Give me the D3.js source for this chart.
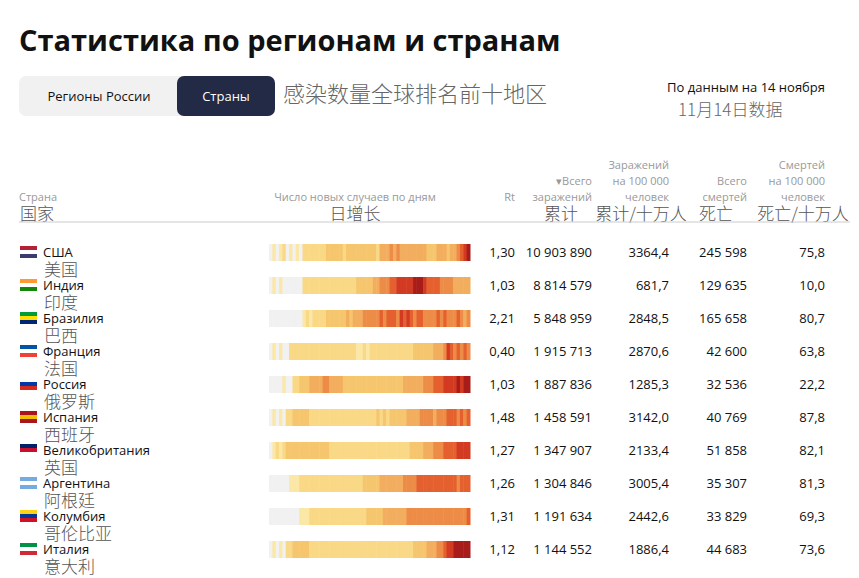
<!DOCTYPE html>
<html><head><meta charset="utf-8">
<script src="https://cdn.jsdelivr.net/npm/d3@7"></script>
<style>body{margin:0;background:#fff;font-family:"Open Sans","Noto Sans",sans-serif}</style>
</head><body><svg id="c" width="859" height="578"></svg>
<script>
const countries=["США","Индия","Бразилия","Франция","Россия","Испания","Великобритания","Аргентина","Колумбия","Италия"];
const countriesZh=["美国","印度","巴西","法国","俄罗斯","西班牙","英国","阿根廷","哥伦比亚","意大利"];
const rt=["1,30","1,03","2,21","0,40","1,03","1,48","1,27","1,26","1,31","1,12"];
const totalCases=[10903890,8814579,5848959,1915713,1887836,1458591,1347907,1304846,1191634,1144552];
const casesPer100k=[3364.4,681.7,2848.5,2870.6,1285.3,3142.0,2133.4,3005.4,2442.6,1886.4];
const deaths=[245598,129635,165658,42600,32536,40769,51858,35307,33829,44683];
const deathsPer100k=[75.8,10.0,80.7,63.8,22.2,87.8,82.1,81.3,69.3,73.6];
// daily intensity levels (0 = no data), read from strips
const daily=[
"010120101022222223333323333333332444545444444443334443445678",
"010100000022222222222222223333344555667777788876666555544444",
"000000000012122223333334344455555656665767656655556565556545",
"010100222222222222222222221121222222222222233333344457656565",
"000010022333444455444433333333333333333344444455566677778788",
"010102233333222222222222222222223232333334444555545556665656",
"012123333333333333222222222222222222222222333344455566667777",
"000000111222222222222222222233333444444455556666666666665666",
"000000000111222222222222222223333344444445555555555555555556",
"010102233333222222222222222222222222222222233334445567788888"];
const flagColors=[["#b22234","#fff","#3c3b6e"],["#ff9933","#fff","#138808"],["#009c3b","#ffdf00","#002776"],["#0055a4","#fff","#ef4135"],["#fff","#0039a6","#d52b1e"],["#aa151b","#f1bf00","#aa151b"],["#012169","#c8102e","#fff"],["#74acdf","#fff","#74acdf"],["#fcd116","#003893","#ce1126"],["#009246","#fff","#ce2b37"]];

const svg=d3.select("#c");
const fmt=d3.formatLocale({decimal:",",thousands:" ",grouping:[3]});
const f1=fmt.format(".1f"), fN=fmt.format(",d");
svg.append("text").attr("x",19).attr("y",51).attr("font-size",29).attr("font-weight",700).attr("fill","#111").text("Статистика по регионам и странам");
svg.append("rect").attr("x",19).attr("y",76).attr("width",256).attr("height",40).attr("rx",7).attr("fill","#f1f1f1");
svg.append("rect").attr("x",177).attr("y",76).attr("width",98).attr("height",40).attr("rx",7).attr("fill","#222a45");
svg.append("text").attr("x",99).attr("y",101).attr("text-anchor","middle").attr("font-size",13).attr("fill","#111").text("Регионы России");
svg.append("text").attr("x",226).attr("y",101).attr("text-anchor","middle").attr("font-size",13).attr("fill","#fff").text("Страны");
svg.append("text").attr("x",283).attr("y",102).attr("font-size",22).attr("fill","#666").attr("font-family","Noto Sans CJK SC").attr("font-weight",300).text("感染数量全球排名前十地区");
svg.append("text").attr("x",825).attr("y",92).attr("text-anchor","end").attr("font-size",13).attr("fill","#111").text("По данным на 14 ноября");
svg.append("text").attr("x",678).attr("y",116).attr("font-size",17).attr("fill","#666").attr("font-family","Noto Sans CJK SC").attr("font-weight",300).text("11月14日数据");

const gray="#999";
function hdr(x,anchor,lines,zh,zx,zanchor){
  lines.forEach((l,i)=>svg.append("text").attr("x",x).attr("y",201-(lines.length-1-i)*16).attr("text-anchor",anchor).attr("font-size",11).attr("fill",gray).text(l));
  if(zh) svg.append("text").attr("x",zx).attr("y",220).attr("text-anchor",zanchor).attr("font-size",17).attr("fill","#555").attr("font-family","Noto Sans CJK SC").attr("font-weight",300).text(zh);
}
hdr(19,"start",["Страна"],"国家",20,"start");
hdr(355,"middle",["Число новых случаев по дням"],"日增长",355,"middle");
hdr(515,"end",["Rt"],"",515,"end");
hdr(592,"end",["▾Всего","заражений"],"累计",578,"end");
hdr(669,"end",["Заражений","на 100 000","человек"],"累计/十万人",641,"middle");
hdr(747,"end",["Всего","смертей"],"死亡",716,"middle");
hdr(825,"end",["Смертей","на 100 000","человек"],"死亡/十万人",803,"middle");
svg.append("line").attr("x1",19).attr("x2",850).attr("y1",222).attr("y2",222).attr("stroke","#ccc");

const y=d3.scaleBand().domain(countries).range([236,566]);
const nDays=daily[0].length;
const x=d3.scaleBand().domain(d3.range(nDays)).range([269,470]);
const col=d3.scaleLinear().domain([1,2,3,4,5,6,7,8]).range(["#fbe7a6","#f9d886","#f6c66e","#f2ad5e","#ed8c47","#e5602f","#d23a22","#a81d1a"]);
countries.forEach((c,i)=>{
  const cy=y(c)+16;
  const g=svg.append("g");
  const fc=flagColors[i];
  [0,1,2].forEach(k=>g.append("rect").attr("x",20).attr("y",cy-6+k*4).attr("width",17).attr("height",4).attr("fill",fc[k]));
  g.append("text").attr("x",43).attr("y",cy+5).attr("font-size",13).attr("fill","#111").text(c);
  g.append("text").attr("x",44).attr("y",cy+24).attr("font-size",17).attr("fill","#555").attr("font-family","Noto Sans CJK SC").attr("font-weight",300).text(countriesZh[i]);
  g.selectAll("rect.d").data(daily[i].split("").map(Number)).join("rect").attr("class","d")
   .attr("x",(d,j)=>x(j)).attr("width",x.bandwidth()+0.5).attr("y",cy-8).attr("height",17)
   .attr("fill",d=>d===0?"#f1f1f1":col(d));
  const vals=[[515,rt[i]],[592,fN(totalCases[i])],[669,f1(casesPer100k[i])],[747,fN(deaths[i])],[825,f1(deathsPer100k[i])]];
  vals.forEach(([vx,t])=>g.append("text").attr("x",vx).attr("y",cy+5).attr("text-anchor","end").attr("font-size",13).attr("fill","#111").text(t));
});
</script></body></html>
